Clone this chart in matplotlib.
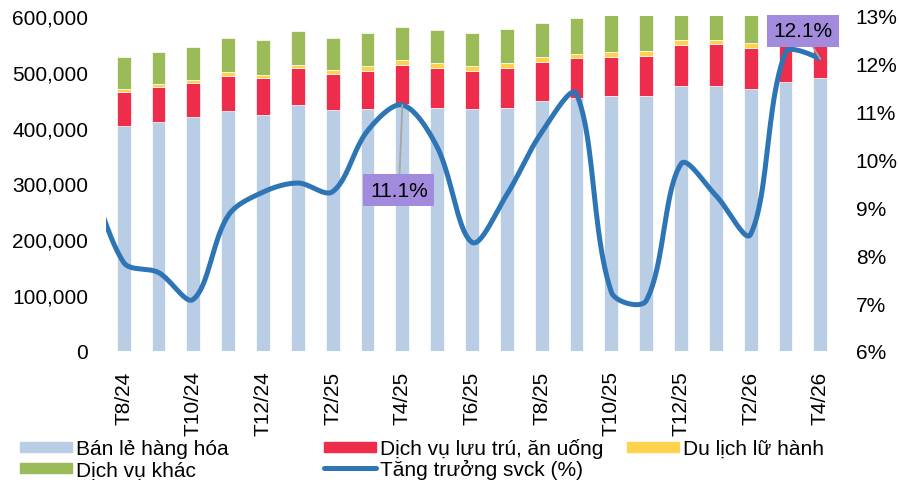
import matplotlib
matplotlib.use("Agg")
import matplotlib.pyplot as plt
import numpy as np
from matplotlib.patches import Rectangle
from matplotlib.lines import Line2D
from matplotlib.ticker import FuncFormatter

plt.rcParams["font.family"] = ["Liberation Sans", "DejaVu Sans"]

months = ["T8/24", "T9/24", "T10/24", "T11/24", "T12/24", "T1/25", "T2/25", "T3/25",
          "T4/25", "T5/25", "T6/25", "T7/25", "T8/25", "T9/25", "T10/25", "T11/25",
          "T12/25", "T1/26", "T2/26", "T3/26", "T4/26"]
ban_le = [402400, 410100, 419100, 429800, 423300, 440600, 431600, 434000, 441800, 435800,
          432800, 435800, 447800, 453700, 456200, 456700, 474100, 475200, 469200, 482300, 489000]
luu_tru = [62000, 62100, 61500, 62700, 65600, 66900, 64500, 68000, 70400, 71100,
           69200, 71700, 70400, 70500, 70400, 71600, 73900, 74100, 73500, 75000, 76000]
du_lich = [4900, 5400, 4800, 7200, 5400, 5300, 7200, 8400, 9600, 8900,
           8400, 7700, 8400, 7700, 8900, 9000, 9000, 7700, 8900, 9000, 9500]
dv_khac = [56700, 57900, 59600, 61500, 63300, 59700, 57300, 59700, 59100, 58500,
           59100, 60900, 60900, 64500, 68000, 67000, 68000, 66000, 66000, 68000, 70000]
# growth yoy (%), first value is T7/24 (off the left edge of the chart)
growth_prev = 9.8
growth = [7.85, 7.64, 7.08, 8.83, 9.32, 9.51, 9.33, 10.60, 11.14, 10.26, 8.27,
          9.27, 10.57, 11.37, 7.23, 7.05, 9.91, 9.25, 8.44, 12.24, 12.10]

C_BLUE, C_RED, C_YEL, C_GRN = "#B9CDE5", "#EE2C4B", "#FFD24D", "#9BBB59"
C_LINE, C_LABEL = "#2E75B6", "#A28BDD"
W, H = 899, 481


def smooth(xp, yp, t=1 / 3, n=24):
    """Excel-like smooth line: chord-length weighted bezier through the points (px space)."""
    P = np.column_stack([xp, yp])
    xs, ys = [], []
    for i in range(len(P) - 1):
        p0 = P[i - 1] if i > 0 else P[i]
        p1, p2 = P[i], P[i + 1]
        p3 = P[i + 2] if i + 2 < len(P) else P[i + 1]
        d01 = np.hypot(*(p1 - p0)); d12 = np.hypot(*(p2 - p1)); d23 = np.hypot(*(p3 - p2))
        c1 = p1 + (t * d12 / (d01 + d12) * (p2 - p0) if d01 > 0 else 0)
        c2 = p2 - (t * d12 / (d12 + d23) * (p3 - p1) if d23 > 0 else 0)
        s = np.linspace(0, 1, n)[:, None]
        b = (1 - s) ** 3 * p1 + 3 * (1 - s) ** 2 * s * c1 + 3 * (1 - s) * s ** 2 * c2 + s ** 3 * p2
        xs.extend(b[:, 0]); ys.extend(b[:, 1])
    return np.array(xs), np.array(ys)


fig = plt.figure(figsize=(W / 100, H / 100), dpi=100)
ax = fig.add_axes([0.1182, 0.2682, 0.8137, 0.6965])
x = np.arange(len(months))
w = 0.4
kw = dict(width=w, edgecolor="white", linewidth=0.5, zorder=2)
b1 = np.array(ban_le); b2 = b1 + luu_tru; b3 = b2 + du_lich
ax.bar(x, ban_le, color=C_BLUE, **kw)
ax.bar(x, luu_tru, bottom=b1, color=C_RED, **kw)
ax.bar(x, du_lich, bottom=b2, color=C_YEL, **kw)
ax.bar(x, dv_khac, bottom=b3, color=C_GRN, **kw)
ax.set_xlim(-0.5, len(months) - 0.5)
ax.set_ylim(0, 600000)
ax.set_yticks(range(0, 600001, 100000))
ax.yaxis.set_major_formatter(FuncFormatter(lambda v, _: f"{int(v):,}"))
ax.set_xticks(x[::2])
ax.set_xticklabels(months[::2], rotation=90)
ax.tick_params(axis="both", length=0, labelsize=15)
ax.tick_params(axis="y", pad=13)
ax.tick_params(axis="x", pad=14)

ax2 = ax.twinx()
ax2.set_ylim(6, 13)
ax2.set_yticks(range(6, 14))
ax2.yaxis.set_major_formatter(FuncFormatter(lambda v, _: f"{int(v)}%"))
ax2.tick_params(axis="y", length=0, labelsize=15, pad=13)
for a in (ax, ax2):
    for sp in a.spines.values():
        sp.set_visible(False)

# smooth in pixel space so the curve shape matches the on-screen aspect
bbox = ax.get_window_extent()
sx = bbox.width / len(months)
sy = bbox.height / 7.0
gx = np.concatenate([[-1], x]).astype(float)
gy = np.array([growth_prev] + growth)
px, py = smooth(gx * sx, gy * sy)
ax2.plot(px / sx, py / sy, color=C_LINE, lw=3.6, solid_capstyle="butt", zorder=3)

box = dict(boxstyle="square,pad=0.32", fc=C_LABEL, ec="none")
arr = dict(arrowstyle="-", color="#A6A6A6", lw=1.3, shrinkA=0, shrinkB=0)
ax2.annotate("11.1%", xy=(8, growth[8]), xytext=(7.9, 9.36), fontsize=15,
             ha="center", va="center", bbox=box, arrowprops=arr, zorder=5)
ax2.annotate("12.1%", xy=(20, growth[20]), xytext=(19.5, 12.69), fontsize=15,
             ha="center", va="center", bbox=box, arrowprops=arr, zorder=5)

# legend, laid out like the Excel one (fixed column positions, thin swatches)
legend_items = [  # (left px, row, label, colour, kind)
    (20, 0, "Bán lẻ hàng hóa", C_BLUE, "patch"),
    (324, 0, "Dịch vụ lưu trú, ăn uống", C_RED, "patch"),
    (627, 0, "Du lịch lữ hành", C_YEL, "patch"),
    (20, 1, "Dịch vụ khác", C_GRN, "patch"),
    (324, 1, "Tăng trưởng svck (%)", C_LINE, "line"),
]
for lx, row, label, col, kind in legend_items:
    yc = 447.5 + 21.5 * row
    if kind == "patch":
        fig.patches.append(Rectangle((lx / W, 1 - (yc + 5) / H), 52 / W, 10 / H,
                                     transform=fig.transFigure, color=col))
    else:
        fig.lines.append(Line2D([lx / W, (lx + 52) / W], [1 - yc / H] * 2,
                                transform=fig.transFigure, color=col, lw=3.6,
                                solid_capstyle="round"))
    fig.text((lx + 56) / W, 1 - (yc + 7.5) / H, label, fontsize=15, va="baseline")

fig.savefig("out.png", dpi=100)
